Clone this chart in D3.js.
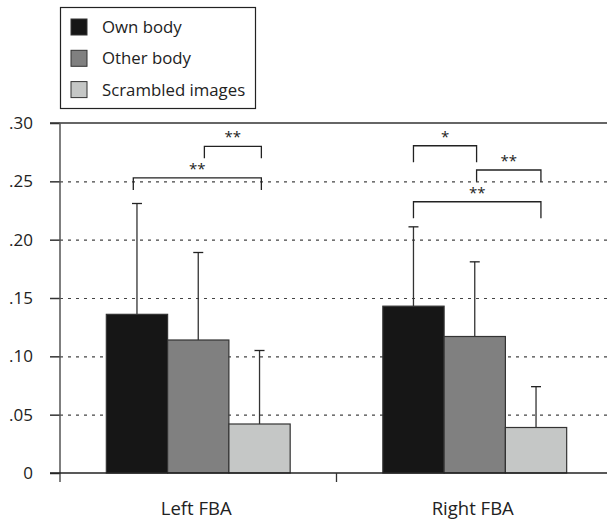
<!DOCTYPE html>
<html>
<head>
<meta charset="utf-8">
<script src="https://cdn.jsdelivr.net/npm/d3@7"></script>
<style>
  html, body { margin: 0; padding: 0; background: #fff; }
  svg { display: block; }
  text { font-family: "Open Sans", "Noto Sans", sans-serif; fill: #222; }
</style>
</head>
<body>
<svg id="chart" width="607" height="521"></svg>
<script>
// ---- data ----
const categories = ["Left FBA", "Right FBA"];
const series = ["Own body", "Other body", "Scrambled images"];
const seriesColors = ["#161616", "#808080", "#c5c7c6"];
const meanLeft = [0.136, 0.114, 0.042];
const meanRight = [0.143, 0.117, 0.039];
const errTopLeft = [0.231, 0.189, 0.105];
const errTopRight = [0.211, 0.181, 0.074];
const yTicks = [0, 0.05, 0.10, 0.15, 0.20, 0.25, 0.30];
const yTickLabels = ["0", ".05", ".10", ".15", ".20", ".25", ".30"];
// significance brackets: group, from/to bar position (series index), bar level, leg level, label
const sigGroup = ["Left FBA", "Left FBA", "Right FBA", "Right FBA", "Right FBA"];
const sigFrom = [1.1, -0.06, 0, 1.03, 0];
const sigTo = [2.03, 2.03, 1.03, 2.08, 2.08];
const sigLevel = [0.280, 0.253, 0.2805, 0.2597, 0.2325];
const sigLeg = [0.2697, 0.2426, 0.2663, 0.2497, 0.2183];
const sigLabel = ["**", "**", "*", "**", "**"];

const means = [meanLeft, meanRight];
const errs = [errTopLeft, errTopRight];

const svg = d3.select("#chart");
const mLeft = 60, mRight = 613, mTop = 123, mBottom = 473;

const y = d3.scaleLinear().domain([0, 0.30]).range([mBottom, mTop]);
const x0 = d3.scaleBand().domain(categories).range([mLeft, mRight]).paddingInner(0).paddingOuter(0);
const x1 = d3.scaleBand().domain(series).range([0, x0.bandwidth()]).paddingInner(0).paddingOuter(0.756);
const pos = d3.scaleLinear().domain([0, 1]).range([x1.step() * 0.756 + x1.bandwidth() / 2, x1.step() * 1.756 + x1.bandwidth() / 2]);

// gridlines (dotted)
svg.append("g").selectAll("line").data(yTicks.filter(t => t > 0 && t < 0.30)).join("line")
  .attr("x1", mLeft).attr("x2", 607)
  .attr("y1", d => y(d) + 0.5).attr("y2", d => y(d) + 0.5)
  .attr("stroke", "#444").attr("stroke-width", 1.2).attr("stroke-dasharray", "3,5");

// top line
svg.append("line").attr("x1", 50).attr("x2", 607).attr("y1", y(0.30)).attr("y2", y(0.30))
  .attr("stroke", "#333").attr("stroke-width", 1.5);

// y axis
const yAxis = d3.axisLeft(y).tickValues(yTicks).tickFormat((d, i) => yTickLabels[i]).tickSize(10).tickPadding(17);
const gy = svg.append("g").attr("transform", `translate(${mLeft},0)`).call(yAxis);
gy.select(".domain").remove();
gy.selectAll(".tick line").attr("stroke", "#333").attr("stroke-width", 1.5);
gy.selectAll(".tick text").attr("font-size", 17).attr("font-family", "Open Sans, sans-serif").attr("fill", "#222");
svg.append("line").attr("x1", mLeft).attr("x2", mLeft).attr("y1", y(0.30)).attr("y2", mBottom + 9)
  .attr("stroke", "#555").attr("stroke-width", 1.5);

// error bars (behind bars)
const flat = [];
categories.forEach((c, ci) => series.forEach((s, si) => flat.push({c, s, si, v: means[ci][si], e: errs[ci][si]})));
const eg = svg.append("g");
eg.selectAll("line.v").data(flat).join("line").attr("class", "v")
  .attr("x1", d => x0(d.c) + x1(d.s) + x1.bandwidth() / 2).attr("x2", d => x0(d.c) + x1(d.s) + x1.bandwidth() / 2)
  .attr("y1", d => y(d.e)).attr("y2", d => y(d.v))
  .attr("stroke", "#333").attr("stroke-width", 1.3);
eg.selectAll("line.cap").data(flat).join("line").attr("class", "cap")
  .attr("x1", d => x0(d.c) + x1(d.s) + x1.bandwidth() / 2 - 5).attr("x2", d => x0(d.c) + x1(d.s) + x1.bandwidth() / 2 + 5)
  .attr("y1", d => y(d.e)).attr("y2", d => y(d.e))
  .attr("stroke", "#222").attr("stroke-width", 1.3);

// bars
svg.append("g").selectAll("rect").data(flat).join("rect")
  .attr("x", d => x0(d.c) + x1(d.s)).attr("width", x1.bandwidth())
  .attr("y", d => y(d.v)).attr("height", d => y(0) - y(d.v))
  .attr("fill", d => seriesColors[d.si]).attr("stroke", "#333").attr("stroke-width", 1.2);

// baseline
svg.append("line").attr("x1", 50).attr("x2", 607).attr("y1", mBottom).attr("y2", mBottom)
  .attr("stroke", "#222").attr("stroke-width", 1.5);

// x axis ticks (category boundary) and labels
const xb = svg.append("g");
xb.append("line").attr("x1", x0("Right FBA")).attr("x2", x0("Right FBA")).attr("y1", mBottom).attr("y2", mBottom + 9)
  .attr("stroke", "#333").attr("stroke-width", 1.3);
xb.selectAll("text").data(categories).join("text")
  .attr("x", d => x0(d) + x0.bandwidth() / 2 - 2).attr("y", 515)
  .attr("text-anchor", "middle").attr("font-size", 18.5).text(d => d);

// significance brackets
const sig = sigGroup.map((g, i) => ({g, a: sigFrom[i], b: sigTo[i], lv: sigLevel[i], lg: sigLeg[i], t: sigLabel[i]}));
const sg = svg.append("g");
sg.selectAll("path").data(sig).join("path")
  .attr("d", d => {
    const xa = x0(d.g) + pos(d.a), xbb = x0(d.g) + pos(d.b);
    return `M${xa},${y(d.lg)}V${y(d.lv)}H${xbb}V${y(d.lg)}`;
  })
  .attr("fill", "none").attr("stroke", "#222").attr("stroke-width", 1.3);
sg.selectAll("text").data(sig).join("text")
  .attr("x", d => x0(d.g) + (pos(d.a) + pos(d.b)) / 2)
  .attr("y", d => y(d.lv) - 4)
  .attr("text-anchor", "middle").attr("font-size", 15).attr("fill", "#333").text(d => d.t);

// legend
const lg = svg.append("g");
lg.append("rect").attr("x", 60.5).attr("y", 7.5).attr("width", 195).attr("height", 101)
  .attr("fill", "#fff").attr("stroke", "#222").attr("stroke-width", 1.2);
const li = lg.selectAll("g.item").data(series).join("g").attr("class", "item")
  .attr("transform", (d, i) => `translate(71,${19 + i * 31.3})`);
li.append("rect").attr("width", 16).attr("height", 16)
  .attr("fill", (d, i) => seriesColors[i]).attr("stroke", "#333").attr("stroke-width", 1);
li.append("text").attr("x", 31).attr("y", 14).attr("font-size", 16.8).text(d => d);
</script>
</body>
</html>
